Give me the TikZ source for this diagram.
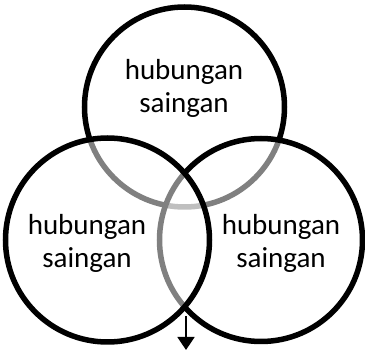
\documentclass[tikz,border=0pt]{standalone}
\usepackage{fontspec}
\setmainfont{Carlito}
\usetikzlibrary{arrows.meta,positioning}

\tikzset{
  ring/.style={circle, draw=black, line width=5.5pt, fill=white, fill opacity=0.5, inner sep=0pt},
  label text/.style={align=center, font=\fontsize{29}{33}\selectfont, text=black}
}

\begin{document}
\begin{tikzpicture}[x=1pt,y=-1pt]
\useasboundingbox (0,0) rectangle (365,350);

% --- Circles (drawn top, right, left so that later fills shade earlier rims) ---
\node[ring, minimum size=200pt] (topring) at (184.5,107) {};
\node[ring, minimum size=203pt] (rightring) at (261,240) {};
\node[ring, minimum size=204pt] (leftring) at (107.5,240) {};

% --- Texts ---
\node[label text] (toptext) at (184,88) {hubungan\\saingan};
\node[label text] (lefttext) at (87,243) {hubungan\\saingan};
\node[label text] (righttext) at (281,243) {hubungan\\saingan};

% --- Arrow below the lower crossing ---
\coordinate (cross) at (186,316);
\coordinate (tip) at (186,350);
\draw[line width=1.7pt, -{Triangle[width=17pt,length=13pt]}] (cross) -- (tip);

\end{tikzpicture}
\end{document}
